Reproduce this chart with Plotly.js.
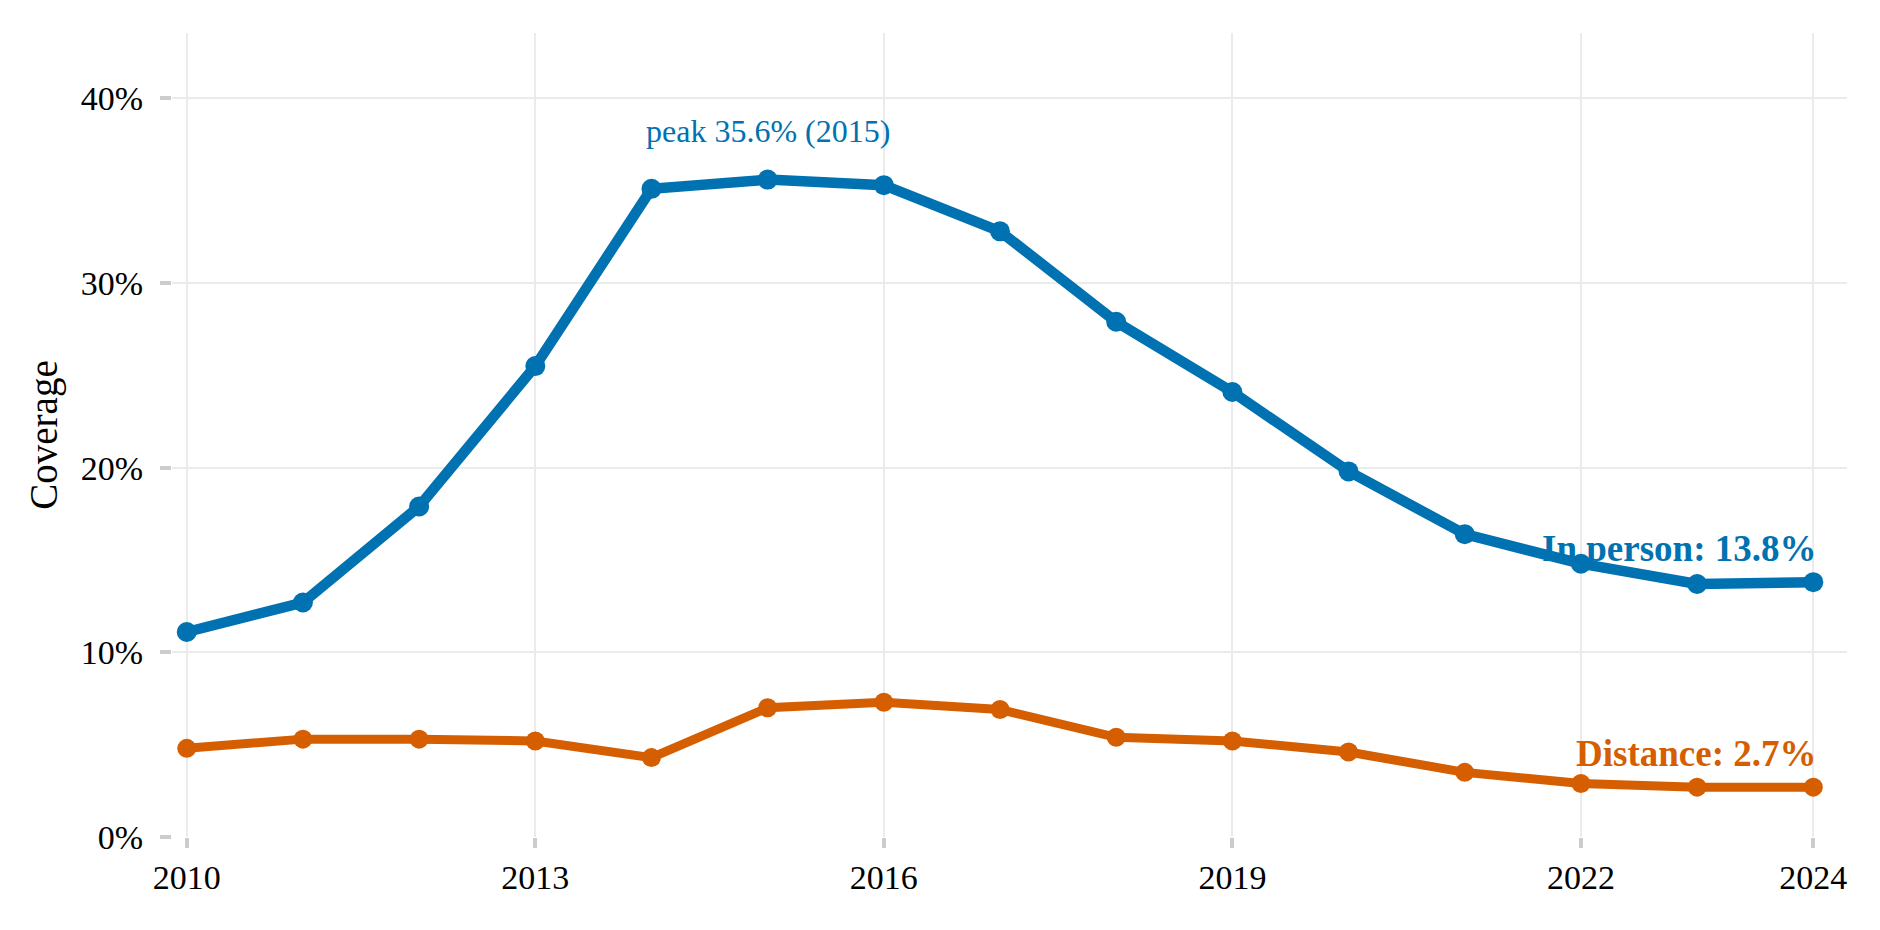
<!DOCTYPE html>
<html>
<head>
<meta charset="utf-8">
<script src="https://cdn.plot.ly/plotly-3.0.1.min.js"></script>
<style>
  html, body { margin: 0; padding: 0; background: #fff; }
  #chart { width: 1880px; height: 930px; }
</style>
</head>
<body>
<div id="chart"></div>
<script>
    var years = [2010, 2011, 2012, 2013, 2014, 2015, 2016, 2017, 2018, 2019, 2020, 2021, 2022, 2023, 2024];
    var inPerson = [11.1, 12.7, 17.9, 25.5, 35.1, 35.6, 35.3, 32.8, 27.9, 24.1, 19.8, 16.4, 14.8, 13.7, 13.8];
    var distance = [4.8, 5.3, 5.3, 5.2, 4.3, 7.0, 7.3, 6.9, 5.4, 5.2, 4.6, 3.5, 2.9, 2.7, 2.7];
    var yTicks = [0, 10, 20, 30, 40];
    var yTickLabels = ['0%', '10%', '20%', '30%', '40%'];
    var xTicks = [2010, 2013, 2016, 2019, 2022, 2024];

    var blue = '#0072B2';
    var orange = '#D55E00';
    var font = 'Liberation Serif, Times New Roman, serif';

    var data = [
        {x: years, y: inPerson, name: 'In person', type: 'scatter', mode: 'lines+markers',
         line: {color: blue, width: 10.5}, marker: {color: blue, size: 20}},
        {x: years, y: distance, name: 'Distance', type: 'scatter', mode: 'lines+markers',
         line: {color: orange, width: 9}, marker: {color: orange, size: 19}}
    ];

    // peak of the in-person series
    var peakIdx = 0;
    for (var i = 1; i < inPerson.length; i++) {
        if (inPerson[i] > inPerson[peakIdx]) peakIdx = i;
    }
    var last = years.length - 1;

    var layout = {
        width: 1880,
        height: 930,
        margin: {l: 172, r: 33, t: 33, b: 93},
        paper_bgcolor: '#fff',
        plot_bgcolor: '#fff',
        showlegend: false,
        font: {family: font, size: 34, color: '#000'},
        xaxis: {
            range: [2009.873, 2024.29],
            tickmode: 'array',
            tickvals: xTicks,
            ticks: 'outside', ticklen: 10, tickwidth: 4, tickcolor: '#cccccc',
            ticklabelstandoff: 0,
            showgrid: true, gridcolor: '#ebebeb', gridwidth: 2,
            zeroline: false, showline: false,
            tickfont: {size: 34}
        },
        yaxis: {
            range: [0, 43.54],
            tickmode: 'array',
            tickvals: yTicks,
            ticktext: yTickLabels,
            ticks: 'outside', ticklen: 11, tickwidth: 4, tickcolor: '#cccccc',
            ticklabelstandoff: 10,
            showgrid: true, gridcolor: '#ebebeb', gridwidth: 2,
            zeroline: false, showline: false,
            tickfont: {size: 34},
            title: {text: 'Coverage', font: {size: 39}, standoff: 11}
        },
        annotations: [
            {x: years[peakIdx], y: inPerson[peakIdx] + 2.65, xref: 'x', yref: 'y',
             text: 'peak ' + inPerson[peakIdx].toFixed(1) + '% (' + years[peakIdx] + ')',
             showarrow: false, xanchor: 'center', yanchor: 'middle',
             font: {size: 32, color: blue}},
            {x: years[last], y: inPerson[last] + 1.8, xref: 'x', yref: 'y',
             text: '<b>In person: ' + inPerson[last].toFixed(1) + '%</b>',
             showarrow: false, xanchor: 'right', yanchor: 'middle', xshift: 5,
             font: {size: 37, color: blue}},
            {x: years[last], y: distance[last] + 1.8, xref: 'x', yref: 'y',
             text: '<b>Distance: ' + distance[last].toFixed(1) + '%</b>',
             showarrow: false, xanchor: 'right', yanchor: 'middle', xshift: 5,
             font: {size: 37, color: orange}}
        ]
    };
    var config = {responsive: false, displayModeBar: false, staticPlot: true};
    Plotly.newPlot('chart', data, layout, config);
</script>
</body>
</html>
